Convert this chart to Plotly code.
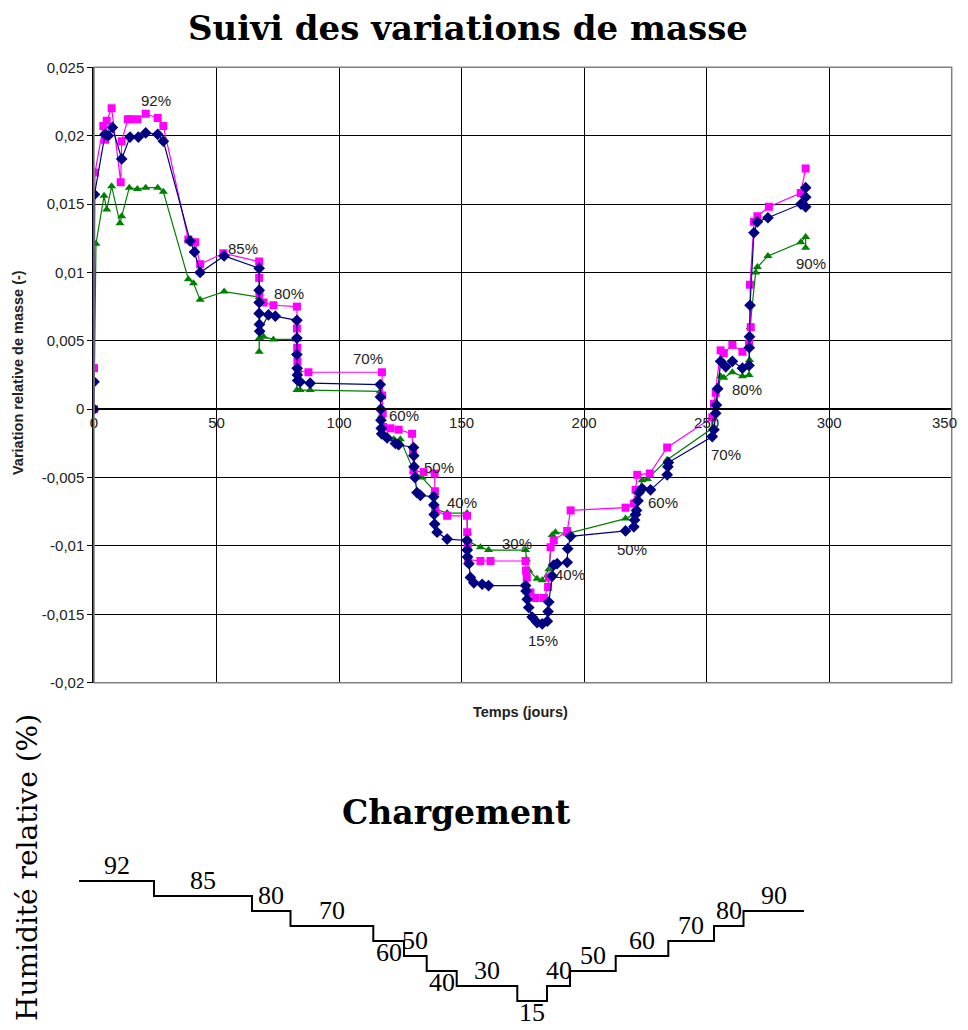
"""
Suivi des variations de masse + schéma du chargement hygrique (Plotly)
"""

import plotly.graph_objects as go

# ── Données : variation relative de masse (-) en fonction du temps (jours) ──
temps_serie1 = [0, 0, 0.2, 4.5, 5.8, 7.5, 11.3, 14.7, 18.1, 21.1, 26.0, 28.3, 39.2, 41.0, 43.3, 53.1,
                67.4, 67.4, 67.4, 67.4, 67.5, 67.6, 71.2, 74.0, 82.8, 82.8, 82.8, 82.9, 83.0, 83.1, 84.1, 88.2,
                116.8, 116.9, 117.0, 117.1, 117.2, 117.4, 119.6, 123.0, 124.3, 130.4, 130.5, 130.6, 131.0,
                131.8, 133.2, 138.6, 138.7, 138.8, 139.0, 140.0, 144.1, 152.2, 152.3, 152.4, 153.0, 153.6,
                155.0, 158.4, 161.0, 176.1, 176.3, 176.8, 177.4, 178.8, 180.8, 182.9, 185.0, 185.3, 185.6,
                187.0, 187.6, 189.0, 193.1, 193.3, 194.5, 216.9, 220.3, 220.6, 221.0, 221.4, 222.0, 222.4,
                223.7, 227.1, 233.9, 234.2, 234.4, 252.3, 253.0, 253.7, 254.0, 254.5, 255.7, 257.8, 260.5,
                264.6, 267.3, 267.4, 267.5, 267.7, 269.3, 270.7, 275.0, 288.5, 290.4, 290.4, 290.4]
masse_serie1 = [0, 0.0020, 0.0157, 0.0201, 0.0200, 0.0206, 0.0183, 0.0199, 0.0199, 0.0202, 0.0201, 0.0196,
                0.0123, 0.0115, 0.0100, 0.0112, 0.0103, 0.0087, 0.0078, 0.0070, 0.0062, 0.0057, 0.0069, 0.0068,
                0.0065, 0.0052, 0.0040, 0.0030, 0.0025, 0.0021, 0.0020, 0.0019, 0.0018, 0.0009, 0.0000,
                -0.0008, -0.0014, -0.0018, -0.0021, -0.0025, -0.0026, -0.0028, -0.0034, -0.0042, -0.0050,
                -0.0061, -0.0063, -0.0064, -0.0070, -0.0077, -0.0084, -0.0090, -0.0095, -0.0096, -0.0103,
                -0.0108, -0.0113, -0.0123, -0.0127, -0.0128, -0.0129, -0.0129, -0.0133, -0.0139, -0.0145,
                -0.0152, -0.0156, -0.0157, -0.0155, -0.0148, -0.0141, -0.0122, -0.0114, -0.0113, -0.0112,
                -0.0102, -0.0093, -0.0089, -0.0086, -0.0081, -0.0077, -0.0074, -0.0067, -0.0061, -0.0058,
                -0.0059, -0.0048, -0.0042, -0.0039, -0.0020, -0.0015, -0.0003, 0.0003, 0.0015, 0.0035,
                0.0031, 0.0035, 0.0030, 0.0032, 0.0045, 0.0053, 0.0076, 0.0129, 0.0137, 0.0140, 0.0150,
                0.0148, 0.0155, 0.0162]

temps_serie2 = [0, 0, 0.4, 3.8, 4.5, 5.2, 7.2, 10.9, 11.3, 13.8, 14.7, 17.7, 21.1, 26.0, 28.3, 38.5, 41.3,
                43.3, 52.8, 67.4, 67.4, 67.5, 69.2, 73.2, 82.8, 82.8, 82.9, 83.0, 83.2, 87.5, 117.5, 117.6,
                117.8, 118.0, 121.0, 124.3, 129.8, 130.2, 130.4, 134.5, 139.0, 139.1, 139.3, 144.1, 152.2,
                152.3, 152.5, 152.7, 157.7, 161.8, 176.1, 176.3, 176.6, 178.1, 180.2, 183.6, 185.3, 185.6,
                186.3, 187.6, 193.1, 194.5, 216.9, 220.3, 221.0, 221.7, 226.8, 233.9, 252.3, 253.0, 253.7,
                255.7, 257.0, 260.5, 264.6, 267.3, 268.0, 267.7, 269.3, 270.7, 275.4, 288.4, 290.4]
masse_serie2 = [0, 0.0030, 0.0173, 0.0207, 0.0197, 0.0211, 0.0220, 0.0166, 0.0196, 0.0212, 0.0212, 0.0212,
                0.0216, 0.0213, 0.0207, 0.0124, 0.0122, 0.0106, 0.0114, 0.0108, 0.0096, 0.0085, 0.0078,
                0.0076, 0.0075, 0.0059, 0.0045, 0.0035, 0.0028, 0.0027, 0.0027, 0.0010, -0.0003, -0.0013,
                -0.0014, -0.0015, -0.0018, -0.0030, -0.0045, -0.0046, -0.0047, -0.0060, -0.0074, -0.0078,
                -0.0078, -0.0090, -0.0100, -0.0110, -0.0111, -0.0111, -0.0111, -0.0118, -0.0123, -0.0134,
                -0.0138, -0.0138, -0.0130, -0.0123, -0.0101, -0.0096, -0.0089, -0.0074, -0.0072, -0.0069,
                -0.0059, -0.0048, -0.0047, -0.0028, -0.0006, 0.0004, 0.0012, 0.0043, 0.0041, 0.0047,
                0.0042, 0.0048, 0.0060, 0.0091, 0.0137, 0.0141, 0.0148, 0.0158, 0.0176]

temps_serie3 = [0, 0.8, 4.1, 5.2, 7.2, 10.6, 11.3, 14.4, 17.7, 21.1, 26.0, 28.3, 38.5, 40.6, 43.3, 53.1,
                67.4, 67.4, 67.5, 69.2, 73.2, 82.8, 82.8, 84.1, 88.2, 116.8, 117.2, 117.6, 122.3, 125.0,
                130.4, 133.9, 139.0, 139.3, 144.1, 152.2, 152.4, 153.0, 157.7, 161.0, 176.1, 176.5, 177.5,
                180.8, 182.9, 185.6, 187.0, 188.3, 193.1, 216.9, 220.3, 221.0, 223.7, 225.8, 233.9, 252.3,
                253.0, 253.7, 255.7, 257.0, 260.5, 264.6, 267.3, 267.5, 267.7, 270.0, 270.7, 275.0, 288.4,
                290.4, 290.4]
masse_serie3 = [0, 0.0121, 0.0156, 0.0146, 0.0163, 0.0136, 0.0141, 0.0162, 0.0161, 0.0162, 0.0162, 0.0159,
                0.0095, 0.0092, 0.0080, 0.0086, 0.0082, 0.0042, 0.0052, 0.0053, 0.0051, 0.0051, 0.0014,
                0.0014, 0.0014, 0.0013, -0.0005, -0.0018, -0.0022, -0.0022, -0.0045, -0.0050, -0.0060,
                -0.0073, -0.0076, -0.0076, -0.0090, -0.0097, -0.0101, -0.0103, -0.0103, -0.0110, -0.0118,
                -0.0124, -0.0125, -0.0117, -0.0092, -0.0090, -0.0091, -0.0080, -0.0077, -0.0066, -0.0052,
                -0.0051, -0.0037, -0.0014, -0.0004, 0.0005, 0.0024, 0.0023, 0.0027, 0.0024, 0.0025, 0.0036,
                0.0060, 0.0100, 0.0104, 0.0112, 0.0122, 0.0126, 0.0118]

# étiquettes d'humidité relative placées sur la courbe
etiquettes_hr = ["92%", "85%", "80%", "70%", "60%", "50%", "40%", "30%", "15%", "40%", "50%", "60%",
                 "70%", "80%", "90%"]
etiquettes_t = [25.3, 61.0, 79.4, 112.0, 126.6, 140.7, 150.2, 172.7, 183.3, 194.4, 219.6, 232.3,
                257.8, 266.6, 292.5]
etiquettes_v = [0.02255, 0.01178, 0.00848, 0.00372, -0.00044, -0.00423, -0.0068, -0.00985, -0.01688,
                -0.0121, -0.01029, -0.0068, -0.0033, 0.00144, 0.01068]

x_ticks = [0, 50, 100, 150, 200, 250, 300, 350]
y_ticks = [-0.02, -0.015, -0.01, -0.005, 0, 0.005, 0.01, 0.015, 0.02, 0.025]

# ── Données : schéma du chargement (paliers d'humidité relative) ──
paliers_hr = ["92", "85", "80", "70", "60", "50", "40", "30", "15", "40", "50", "60", "70", "80", "90"]
paliers_niveau = [0, -1, -2, -3, -4, -5, -6, -7, -8, -7, -6, -5, -4, -3, -2]
paliers_bornes = [0, 75, 173, 211.5, 294.3, 325, 347.7, 377.7, 438.3, 468, 491, 536.7, 589.3, 635,
                  664.5, 725]
paliers_dessous = {4, 6, 8}   # étiquettes écrites sous le trait

# la page html garde une marge de 8 px autour de la figure
MARGE_PAGE = 8
W, H = 968 - 2 * MARGE_PAGE, 1030 - 2 * MARGE_PAGE


def px(x):
    """abscisse écran -> coordonnée papier"""
    return (x - MARGE_PAGE) / W


def py(y):
    """ordonnée écran -> coordonnée papier"""
    return 1 - (y - MARGE_PAGE) / H


X_DOM = [px(94), px(951.7)]
Y_DOM = [py(682.7), py(67.3)]
X_RANGE = [0, 350]
Y_RANGE = [-0.02, 0.025]
POLICE_AXES = dict(family="Liberation Sans, Arial", size=15, color="#222222")

fig = go.Figure()

series = [
    (temps_serie3, masse_serie3, "#008000", "triangle-up", 8),
    (temps_serie2, masse_serie2, "#FF00FF", "square", 8),
    (temps_serie1, masse_serie1, "#000080", "diamond", 9),
]
for t, v, couleur, symbole, taille in series:
    fig.add_trace(go.Scatter(
        x=t, y=v, mode="lines+markers",
        line=dict(color=couleur, width=1.2),
        marker=dict(color=couleur, symbol=symbole, size=taille),
        showlegend=False,
    ))

# annotations HR sur le graphe
for txt, t, v in zip(etiquettes_hr, etiquettes_t, etiquettes_v):
    fig.add_annotation(x=t, y=v, xref="x", yref="y", text=txt, showarrow=False,
                       font=dict(family="Liberation Sans, Arial", size=15, color="#222222"))

# dernier libellé de l'axe des x, calé sur le bord de la page (sinon masqué par plotly)
fig.add_annotation(x=x_ticks[-1], y=0, xref="x", yref="y", text=str(x_ticks[-1]),
                   showarrow=False, xanchor="right", xshift=7, yanchor="top", yshift=-3,
                   font=POLICE_AXES)

# escalier du chargement (axes x2/y2 : 1 unité = 1 px en x, 15 px par palier en y)
x0_esc = 79
niv0_esc = 881
y2_dom = [0, 0.2]
y2_haut = y2_dom[1] * H / 15
y2_bas_px = MARGE_PAGE + H  # bas de la figure
y2_min = -(y2_bas_px - niv0_esc) / 15
x_esc = paliers_bornes
y_esc = paliers_niveau + [paliers_niveau[-1]]
fig.add_trace(go.Scatter(
    x=x_esc, y=y_esc, mode="lines", line=dict(color="black", width=2, shape="hv"),
    xaxis="x2", yaxis="y2", showlegend=False, hoverinfo="skip",
))
for i, (txt, niv) in enumerate(zip(paliers_hr, paliers_niveau)):
    milieu = (paliers_bornes[i] + paliers_bornes[i + 1]) / 2
    dessous = i in paliers_dessous
    fig.add_annotation(x=milieu, y=niv, xref="x2", yref="y2", text=txt, showarrow=False,
                       yanchor="top" if dessous else "bottom",
                       yshift=5 if dessous else -1,
                       font=dict(family="Liberation Serif, serif", size=26, color="black"))

# position de l'axe des x (à l'ordonnée 0)
pos_x0 = Y_DOM[0] + (0 - Y_RANGE[0]) / (Y_RANGE[1] - Y_RANGE[0]) * (Y_DOM[1] - Y_DOM[0])

fig.update_layout(
    width=W, height=H,
    margin=dict(l=0, r=0, t=0, b=0),
    paper_bgcolor="white", plot_bgcolor="white",
    showlegend=False,
    title=dict(text="Suivi des variations de masse", x=px(468), xanchor="center",
               y=py(28), yanchor="middle",
               font=dict(family="DejaVu Serif, serif", size=34, color="black", weight="bold")),
    xaxis=dict(
        domain=X_DOM, range=X_RANGE, tickvals=x_ticks[:-1],
        ticktext=[str(x) for x in x_ticks[:-1]],
        anchor="free", position=pos_x0,
        showgrid=True, gridcolor="black", gridwidth=1,
        showline=True, linecolor="black", linewidth=1.5,
        zeroline=False, ticks="", automargin=False,
        tickfont=POLICE_AXES,
    ),
    yaxis=dict(
        domain=Y_DOM, range=Y_RANGE, tickvals=y_ticks,
        ticktext=[f"{v:g}".replace(".", ",") for v in y_ticks],
        anchor="x", showgrid=True, gridcolor="black", gridwidth=1,
        showline=True, linecolor="black", linewidth=1.5,
        zeroline=False, ticks="outside", ticklen=5, tickcolor="black", automargin=False,
        tickfont=POLICE_AXES,
    ),
    xaxis2=dict(domain=[0, 1], range=[-(x0_esc - MARGE_PAGE), W - (x0_esc - MARGE_PAGE)],
                visible=False, fixedrange=True),
    yaxis2=dict(domain=y2_dom, range=[y2_min, y2_min + y2_haut], visible=False, fixedrange=True,
                anchor="x2"),
)

# cadre de la zone de tracé
fig.add_shape(type="rect", xref="x domain", yref="y domain", x0=0, x1=1, y0=0, y1=1,
              line=dict(color="#808080", width=1.5), layer="above")

# titres d'axes
fig.add_annotation(x=px(520), y=py(712), xref="paper", yref="paper", showarrow=False,
                   xanchor="center", yanchor="middle", text="Temps (jours)",
                   font=dict(family="Liberation Sans, Arial", size=14.5, color="#222222", weight="bold"))
fig.add_annotation(x=px(18), y=py(373), xref="paper", yref="paper", showarrow=False,
                   xanchor="center", yanchor="middle",
                   text="Variation relative de masse (-)", textangle=-90,
                   font=dict(family="Liberation Sans, Arial", size=14.5, color="#222222", weight="bold"))

# textes du schéma de chargement
fig.add_annotation(x=px(456), y=py(812), xref="paper", yref="paper", showarrow=False,
                   xanchor="center", yanchor="middle", text="Chargement",
                   font=dict(family="DejaVu Serif, serif", size=33, color="black", weight="bold"))
fig.add_annotation(x=px(27), y=py(868), xref="paper", yref="paper", showarrow=False,
                   xanchor="center", yanchor="middle",
                   text="Humidité relative (%)", textangle=-90,
                   font=dict(family="DejaVu Serif, serif", size=28, color="black"))

fig.write_html("out.html")
